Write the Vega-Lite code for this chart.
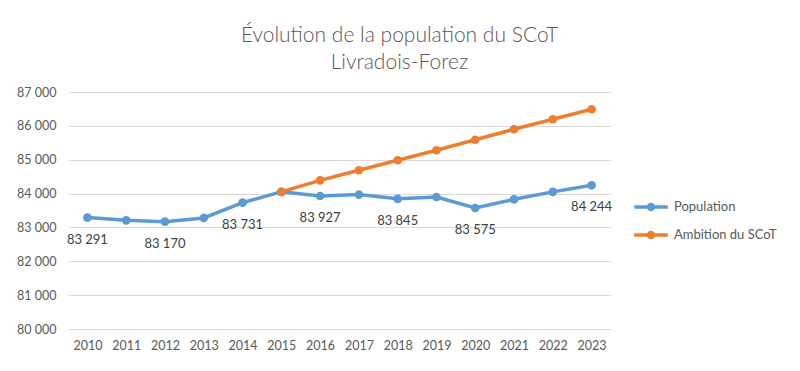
{
  "$schema": "https://vega.github.io/schema/vega-lite/v6.json",
  "width": 543,
  "height": 237,
  "autosize": "none",
  "padding": {"left": 68, "top": 92, "right": 189, "bottom": 42},
  "background": "white",
  "config": {
    "locale": {"number": {"decimal": ",", "thousands": " ", "grouping": [3], "currency": ["", " €"]}},
    "view": {"stroke": null},
    "font": "Lato"
  },
  "title": {
    "text": ["Évolution de la population du SCoT", "Livradois-Forez"],
    "fontSize": 21,
    "fontWeight": 300,
    "font": "Lato",
    "color": "#595959",
    "anchor": "middle",
    "dx": 60,
    "offset": 13,
    "lineHeight": 27
  },
  "data": {
    "values": [
      {"year": "2010", "series": "Population", "value": 83291},
      {"year": "2011", "series": "Population", "value": 83210},
      {"year": "2012", "series": "Population", "value": 83170},
      {"year": "2013", "series": "Population", "value": 83280},
      {"year": "2014", "series": "Population", "value": 83731},
      {"year": "2015", "series": "Population", "value": 84050},
      {"year": "2016", "series": "Population", "value": 83927},
      {"year": "2017", "series": "Population", "value": 83970},
      {"year": "2018", "series": "Population", "value": 83845},
      {"year": "2019", "series": "Population", "value": 83900},
      {"year": "2020", "series": "Population", "value": 83575},
      {"year": "2021", "series": "Population", "value": 83830},
      {"year": "2022", "series": "Population", "value": 84050},
      {"year": "2023", "series": "Population", "value": 84244},
      {"year": "2015", "series": "Ambition du SCoT", "value": 84050},
      {"year": "2016", "series": "Ambition du SCoT", "value": 84390},
      {"year": "2017", "series": "Ambition du SCoT", "value": 84690},
      {"year": "2018", "series": "Ambition du SCoT", "value": 84985},
      {"year": "2019", "series": "Ambition du SCoT", "value": 85280},
      {"year": "2020", "series": "Ambition du SCoT", "value": 85590},
      {"year": "2021", "series": "Ambition du SCoT", "value": 85900},
      {"year": "2022", "series": "Ambition du SCoT", "value": 86195},
      {"year": "2023", "series": "Ambition du SCoT", "value": 86490}
    ]
  },
  "encoding": {
    "x": {
      "field": "year",
      "type": "ordinal",
      "scale": {"type": "point", "padding": 0.5},
      "axis": {"title": null, "labelAngle": 0, "domain": false, "ticks": false, "labelFontSize": 12.5, "labelColor": "#595959", "labelPadding": 10, "grid": false}
    },
    "y": {
      "field": "value",
      "type": "quantitative",
      "scale": {"domain": [80000, 87000], "nice": false, "zero": false},
      "axis": {"title": null, "values": [80000, 81000, 82000, 83000, 84000, 85000, 86000, 87000], "format": ",d", "domain": false, "ticks": false, "labelFontSize": 12.5, "labelColor": "#595959", "labelPadding": 12, "gridColor": "#d9d9d9", "gridWidth": 1}
    }
  },
  "layer": [
    {
      "mark": {"type": "line", "strokeWidth": 3.5, "point": {"filled": true, "size": 75}},
      "encoding": {
        "color": {
          "field": "series",
          "type": "nominal",
          "sort": ["Population", "Ambition du SCoT"],
          "scale": {"domain": ["Population", "Ambition du SCoT"], "range": ["#5B9BD5", "#ED7D31"]},
          "legend": {
            "title": null,
            "orient": "none",
            "legendX": 570,
            "legendY": 102,
            "symbolType": "M-1.5,0L-0.22,0M0.22,0L1.5,0M0.22,0A0.22,0.22 0 1,1 -0.22,0A0.22,0.22 0 1,1 0.22,0",
            "symbolSize": 500,
            "symbolStrokeWidth": 3.5,
            "labelFontSize": 13,
            "labelColor": "#595959",
            "labelOffset": 10,
            "rowPadding": 5
          }
        },
        "order": {"field": "year"}
      }
    },
    {
      "transform": [
        {"filter": "datum.series == 'Population' && indexof(['2010','2012','2014','2016','2018','2020','2023'], datum.year) >= 0"}
      ],
      "mark": {"type": "text", "dy": 22, "fontSize": 13, "color": "#404040"},
      "encoding": {
        "text": {"field": "value", "type": "quantitative", "format": ",d"}
      }
    }
  ]
}
